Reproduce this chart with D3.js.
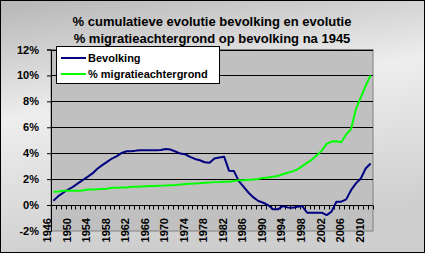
<!DOCTYPE html>
<html>
<head>
<meta charset="utf-8">
<script src="https://cdn.jsdelivr.net/npm/d3@7"></script>
<style>
  body { margin: 0; }
  text { font-family: "Liberation Sans", Arial, sans-serif; font-weight: bold; }
</style>
</head>
<body>
<svg id="chart" width="425" height="253"></svg>
<script>
// categories: one per year
var years = d3.range(1946, 2012);
var tickYears = [1946, 1950, 1954, 1958, 1962, 1966, 1970, 1974, 1978,
  1982, 1986, 1990, 1994, 1998, 2002, 2006, 2010];
var yTicks = [-2, 0, 2, 4, 6, 8, 10, 12];

var titleLines = ['% cumulatieve evolutie bevolking en evolutie',
  '% migratieachtergrond op bevolking na 1945'];
var seriesNames = ['Bevolking', '% migratieachtergrond'];

var bevolking = [
  0.33, 0.69, 0.95, 1.2, 1.4, 1.67, 1.92, 2.18, 2.44, 2.8,
  3.08, 3.33, 3.59, 3.77, 4.02, 4.15, 4.15, 4.2, 4.22, 4.23,
  4.23, 4.23, 4.25, 4.33, 4.28, 4.13, 3.97, 3.92, 3.72, 3.56,
  3.46, 3.3, 3.26, 3.59, 3.67, 3.72, 2.64, 2.62, 1.85, 1.41,
  0.95, 0.59, 0.31, 0.18, 0.0, -0.33, -0.33, -0.08, -0.18, -0.2,
  -0.13, -0.08, -0.59, -0.59, -0.59, -0.59, -0.77, -0.51, 0.26, 0.26,
  0.44, 1.15, 1.67, 2.05, 2.82, 3.21
];
var migratie = [
  1.03, 1.05, 1.1, 1.1, 1.1, 1.1, 1.12, 1.2, 1.2, 1.22,
  1.24, 1.26, 1.33, 1.33, 1.35, 1.36, 1.41, 1.42, 1.44, 1.46,
  1.47, 1.48, 1.5, 1.51, 1.53, 1.55, 1.58, 1.62, 1.64, 1.66,
  1.69, 1.72, 1.74, 1.77, 1.78, 1.8, 1.8, 1.85, 1.92, 1.92,
  1.95, 1.97, 2.02, 2.08, 2.12, 2.18, 2.25, 2.38, 2.49, 2.6,
  2.74, 3.0, 3.26, 3.51, 3.85, 4.2, 4.72, 4.9, 4.92, 4.85,
  5.45, 5.85, 7.4, 8.3, 9.2, 10.0
];
var colors = ['#000080', '#00ff00'];

var svg = d3.select('#chart');
var W = 425, H = 253;

// background
var grad = svg.append('defs').append('linearGradient')
  .attr('id', 'bg').attr('x1', 0).attr('y1', 0).attr('x2', 0.25).attr('y2', 1);
grad.append('stop').attr('offset', '0%').attr('stop-color', '#b6b6b6');
grad.append('stop').attr('offset', '45%').attr('stop-color', '#eeeeee');
grad.append('stop').attr('offset', '100%').attr('stop-color', '#cecece');
svg.append('rect')
  .attr('x', 0.5).attr('y', 0.5).attr('width', W - 1).attr('height', H - 1)
  .attr('fill', 'url(#bg)').attr('stroke', '#000').attr('stroke-width', 1);

// title
svg.selectAll('.title').data(titleLines).enter()
  .append('text')
  .attr('class', 'title')
  .attr('x', 212)
  .attr('y', function(d, i) { return 26 + i * 17; })
  .attr('text-anchor', 'middle')
  .style('font-size', '13px')
  .text(function(d) { return d; });

var plotL = 51, plotR = 373, plotT = 49.5, plotB = 231;

var x = d3.scaleBand().domain(years).range([plotL, plotR]).padding(0);
var y = d3.scaleLinear().domain([-2, 12]).range([plotB, plotT]);
var cx = function(yr) { return x(yr) + x.bandwidth() / 2; };

// plot area
svg.append('rect')
  .attr('x', plotL).attr('y', plotT)
  .attr('width', plotR - plotL).attr('height', plotB - plotT)
  .attr('fill', '#c0c0c0').attr('stroke', '#808080');

svg.selectAll('.grid').data(yTicks.filter(function(d) { return d > 0; }))
  .enter().append('line')
  .attr('class', 'grid')
  .attr('x1', plotL).attr('x2', plotR)
  .attr('y1', function(d) { return Math.round(y(d)) + 0.5; })
  .attr('y2', function(d) { return Math.round(y(d)) + 0.5; })
  .attr('stroke', '#000');

// y axis
var yAxis = svg.append('g')
  .attr('transform', 'translate(' + plotL + ',0)')
  .call(d3.axisLeft(y).tickValues(yTicks).tickSize(4).tickPadding(8)
    .tickFormat(function(d) { return d + '%'; }));
yAxis.select('.domain').attr('stroke', '#000');
yAxis.selectAll('.tick line').attr('stroke', '#000');
yAxis.selectAll('text').style('font-size', '11px').attr('fill', '#000');

// category axis at 0%
var y0 = Math.round(y(0)) + 0.5;
svg.append('line')
  .attr('x1', plotL).attr('x2', plotR).attr('y1', y0).attr('y2', y0)
  .attr('stroke', '#000');
svg.selectAll('.xtick').data(years.concat([years[years.length - 1] + 1]))
  .enter().append('line')
  .attr('class', 'xtick')
  .attr('x1', function(d, i) { return Math.round(plotL + i * x.bandwidth()) + 0.5; })
  .attr('x2', function(d, i) { return Math.round(plotL + i * x.bandwidth()) + 0.5; })
  .attr('y1', y0).attr('y2', y0 + 4)
  .attr('stroke', '#000');

svg.selectAll('.xlabel').data(tickYears).enter()
  .append('text')
  .attr('class', 'xlabel')
  .attr('transform', function(d) {
    return 'translate(' + (cx(d) - 6) + ',' + 218 + ') rotate(-90)';
  })
  .attr('text-anchor', 'end')
  .attr('dy', '0.35em')
  .style('font-size', '11px')
  .text(function(d) { return d; });

// series
var line = d3.line()
  .x(function(d, i) { return cx(years[i]); })
  .y(function(d) { return y(d); });

[bevolking, migratie].forEach(function(s, k) {
  svg.append('path')
    .attr('d', line(s))
    .attr('fill', 'none')
    .attr('stroke', colors[k])
    .attr('stroke-width', 2)
    .attr('stroke-linejoin', 'round');
});

// legend
var legend = svg.append('g');
legend.append('rect')
  .attr('x', 56.5).attr('y', 46.5).attr('width', 163).attr('height', 37)
  .attr('fill', '#fff').attr('stroke', '#000');
var item = legend.selectAll('.item').data(seriesNames).enter()
  .append('g')
  .attr('transform', function(d, i) { return 'translate(0,' + (58 + i * 16) + ')'; });
item.append('line')
  .attr('x1', 61).attr('x2', 86)
  .attr('stroke', function(d, i) { return colors[i]; })
  .attr('stroke-width', 2);
item.append('text')
  .attr('x', 88).attr('dy', '0.35em')
  .style('font-size', '11px')
  .text(function(d) { return d; });
</script>
</body>
</html>
